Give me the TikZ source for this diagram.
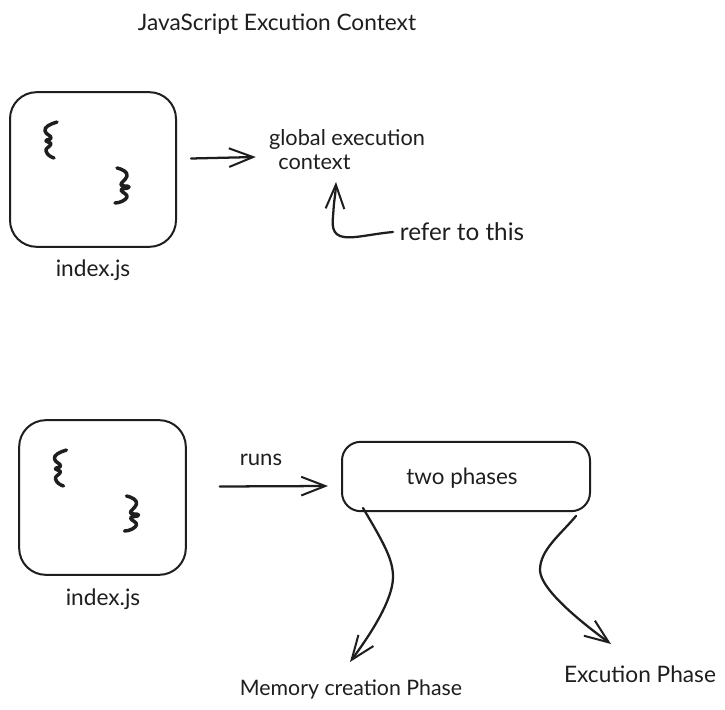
\documentclass[tikz,border=0pt]{standalone}
\usepackage{fontspec}
\setmainfont{Lato}
\usetikzlibrary{arrows.meta}
\definecolor{ink}{HTML}{1E1E1E}
\tikzset{
  every node/.style={text=ink},
  sketchbox/.style={draw=ink,line width=1.5pt,rounded corners=20pt,inner sep=0pt},
  label/.style={inner sep=0pt,font=\fontsize{#1}{20}\selectfont},
  label/.default=16.8,
  conn/.style={draw=ink,line width=1.7pt,line cap=round,-{Straight Barb[length=18pt,width=14pt,line width=1.5pt]}},
  bracestroke/.style={draw=ink,line width=2.6pt,line cap=round,line join=round}
}
\newcommand{\sketchbraces}{
  \draw[bracestroke] (57,122) .. controls (50,124) and (44,127) .. (45,131) .. controls (46,135) and (51,135) .. (51,138) .. controls (51,140) and (46,139) .. (46,141) .. controls (47,143) and (51,142) .. (51,144) .. controls (50,147) and (45,148) .. (46,151) .. controls (47,155) and (51,157) .. (54,158);
  \draw[bracestroke] (117,168) .. controls (122,169) and (128,172) .. (127,176) .. controls (126,180) and (120,183) .. (121,185) .. controls (122,187) and (128,185) .. (129,187) .. controls (129,189) and (121,188) .. (121,190) .. controls (122,193) and (128,194) .. (127,197) .. controls (126,200) and (120,203) .. (115,203);
}
\begin{document}
\begin{tikzpicture}[x=0.75pt,y=-0.75pt]
\useasboundingbox[fill=white] (0,0) rectangle (725,710);
\node[label=17] (title) at (277,24) {JavaScript Excution Context};
\node[sketchbox,minimum width=124.5pt,minimum height=116pt] (boxa) at (93,169.5) {};
\node[label=17] (idxa) at (93,270) {index.js};
\node[label=16.3,align=left] (gec) at (347,150) {global execution\\[-2pt]\hspace{7pt}context};
\node[label=18.2] (refer) at (462,232) {refer to this};
\node[sketchbox,minimum width=125pt,minimum height=116pt] (boxb) at (102.5,497.5) {};
\node[label=17] (idxb) at (103,599) {index.js};
\node[label=16.6] (runs) at (261,460) {runs};
\node[sketchbox,rounded corners=14pt,minimum width=186pt,minimum height=52pt] (boxc) at (466,476.5) {};
\node[label=16.8] (two) at (462,478) {two phases};
\node[label=16] (mem) at (351,689) {Memory creation Phase};
\node[label=17] (exe) at (640,674) {Excution Phase};
\sketchbraces
\begin{scope}[shift={(9.5,328)}]
\sketchbraces
\end{scope}
\coordinate (referstart) at (393,232);
\coordinate (refertip) at (336,182);
\coordinate (memstart) at (363,508);
\coordinate (memtip) at (350,662);
\coordinate (exestart) at (576,516);
\coordinate (exetip) at (611,644);
\draw[conn] ([shift={(14,-11)}]boxa.east) -- ([shift={(-13,7)}]gec.west);
\draw[conn] (referstart) .. controls (370,234) and (350,240) .. (340,236) .. controls (330,232) and (333,220) .. (333.5,210) .. controls (334,200) and (335.5,195) .. (refertip);
\draw[conn] ([shift={(33,-11)}]boxb.east) -- ([shift={(-13,9.5)}]boxc.west);
\draw[conn] (memstart) .. controls (385,545) and (393,560) .. (393,577) .. controls (393,600) and (370,635) .. (memtip);
\draw[conn] (exestart) .. controls (560,535) and (540,550) .. (540,570) .. controls (540,590) and (585,625) .. (exetip);
\end{tikzpicture}
\end{document}
